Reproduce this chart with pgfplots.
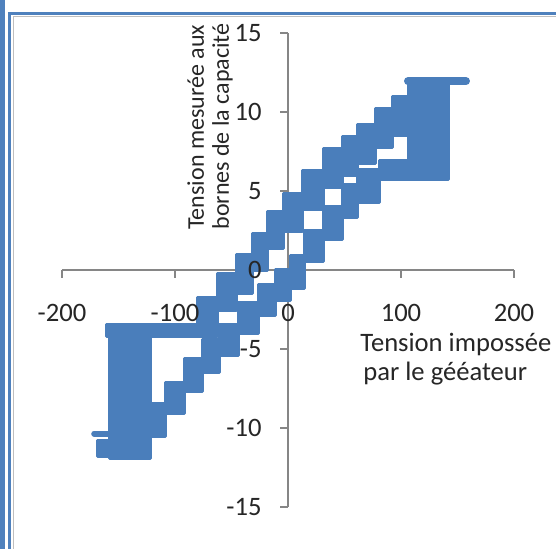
\documentclass[border=0pt]{standalone}
\usepackage{pgfplots}
\pgfplotsset{compat=1.18}
\usepackage{fontspec}
\setmainfont{Carlito}
\definecolor{serie}{RGB}{74,126,187}
\definecolor{axisgrey}{RGB}{134,134,134}
\definecolor{frameblue}{RGB}{79,129,189}
\pgfplotsset{
  base/.style={
    at={(31pt,-253.5pt)}, anchor=south west,
    scale only axis, width=226pt, height=237pt,
    xmin=-200, xmax=200, ymin=-15, ymax=15,
    axis lines=middle,
    xtick={-200,-100,0,100,200}, ytick={-15,-10,-5,0,5,10,15},
    major tick length=4pt, tick align=outside,
    hide obscured x ticks=false, hide obscured y ticks=false,
    clip=false,
  },
  band/.style={fill=serie, draw=serie, line width=1.5pt, line join=round},
}
\begin{document}
\begin{tikzpicture}
\begin{scope}[x=0.5pt,y=-0.5pt]
\useasboundingbox (0,0) rectangle (556,549);
\fill[white] (0,0) rectangle (556,549);
\fill[frameblue] (0,0) rectangle (4.5,549);
\fill[frameblue] (8,12) rectangle (11,549);
\fill[frameblue] (8,12) rectangle (556,15);
\draw[gray!50, line width=0.5pt] (13,17) -- (13,549);
\draw[gray!50, line width=0.5pt] (13,17) -- (556,17);
\end{scope}
% axis lines, ticks and data
\begin{axis}[base,
  axis line style={axisgrey, line width=0.75pt, -},
  tick style={axisgrey, line width=0.75pt},
  xticklabels={}, yticklabels={},
]
% upper branch (falling voltage)
\addplot[band] coordinates {(-160.2,-3.48) (-77.9,-3.48) (-77.9,-4.24) (-160.2,-4.24)} --cycle;
\addplot[band] coordinates {
(-80.5,-1.77) (-62.8,-1.77) (-62.8,-0.19) (-46.0,-0.19) (-46.0,0.95) (-31.0,0.95) (-31.0,2.34) (-17.7,2.34) (-17.7,3.73) (-4.4,3.73) (-4.4,4.81) (12.4,4.81) (12.4,6.27) (31.0,6.27) (31.0,7.66) (47.8,7.66) (47.8,8.42) (61.1,8.42) (61.1,9.18) (77.0,9.18) (77.0,10.19) (92.9,10.19) (92.9,10.95) (108.0,10.95) (108.0,11.96) (123.9,11.96)
(123.9,9.56) (108.0,9.56) (108.0,8.54) (92.9,8.54) (92.9,7.78) (77.0,7.78) (77.0,6.77) (61.1,6.77) (61.1,6.01) (47.8,6.01) (47.8,5.25) (31.0,5.25) (31.0,3.86) (12.4,3.86) (12.4,2.41) (-4.4,2.41) (-4.4,1.33) (-17.7,1.33) (-17.7,-0.06) (-31.0,-0.06) (-31.0,-1.46) (-46.0,-1.46) (-46.0,-2.59) (-62.8,-2.59) (-62.8,-4.18) (-80.5,-4.18)
} --cycle;
% lower branch (rising voltage)
\addplot[band] coordinates {
(-122.1,-8.48) (-108.0,-8.48) (-108.0,-7.09) (-92.0,-7.09) (-92.0,-5.63) (-76.1,-5.63) (-76.1,-4.43) (-60.2,-4.43) (-60.2,-3.42) (-44.2,-3.42) (-44.2,-2.03) (-26.5,-2.03) (-26.5,-0.89) (-11.5,-0.89) (-11.5,0.06) (1.8,0.06) (1.8,0.89) (14.2,0.89) (14.2,2.53) (31.0,2.53) (31.0,3.99) (47.8,3.99) (47.8,5.38) (61.9,5.38) (61.9,6.33) (81.4,6.33) (81.4,6.96) (116.8,6.96)
(116.8,5.70) (81.4,5.70) (81.4,4.30) (61.9,4.30) (61.9,3.35) (47.8,3.35) (47.8,1.96) (31.0,1.96) (31.0,0.51) (14.2,0.51) (14.2,-1.14) (1.8,-1.14) (1.8,-1.96) (-11.5,-1.96) (-11.5,-2.91) (-26.5,-2.91) (-26.5,-4.05) (-44.2,-4.05) (-44.2,-5.44) (-60.2,-5.44) (-60.2,-6.46) (-76.1,-6.46) (-76.1,-7.66) (-92.0,-7.66) (-92.0,-9.11) (-108.0,-9.11) (-108.0,-10.51) (-122.1,-10.51)
} --cycle;
% negative extreme
\addplot[band] coordinates {(-158.0,-3.48) (-122.1,-3.48) (-122.1,-11.90) (-158.0,-11.90)} --cycle;
\addplot[band] coordinates {(-169.0,-10.76) (-150.0,-10.76) (-150.0,-11.80) (-169.0,-11.80)} --cycle;
\addplot[serie, line width=3pt, line cap=round] coordinates {(-171.5,-10.35) (-150.0,-10.35)};
% positive extreme
\addplot[band] coordinates {(106.2,12.03) (142.0,12.03) (142.0,5.70) (106.2,5.70)} --cycle;
\addplot[serie, line width=4pt, line cap=round] coordinates {(106.2,11.95) (157.5,11.95)};
\end{axis}
% tick labels on top of the data
\begin{axis}[base,
  axis line style={draw=none}, tick style={draw=none},
  tick label style={font=\fontsize{13.3}{16}\selectfont, text=black!85},
  /pgf/number format/assume math mode=true,
  xticklabel style={anchor=north, inner sep=0pt, yshift=-13pt},
  yticklabel style={anchor=east, inner sep=0pt, xshift=-9pt},
]
\addplot[draw=none] coordinates {(0,0)};
\end{axis}
\begin{scope}[x=0.5pt,y=-0.5pt]
\node[rotate=90, anchor=north west, inner sep=0pt, align=left, font=\fontsize{12}{12.5}\selectfont, text=black!85] at (187,230) {Tension mesurée aux\\bornes de la capacité};
\node[anchor=north west, inner sep=0pt, align=left, font=\fontsize{13.3}{14.5}\selectfont, text=black!85] at (360,333) {Tension impossée\\\hspace*{1.5pt}par le gééateur};
\end{scope}
\end{tikzpicture}
\end{document}
